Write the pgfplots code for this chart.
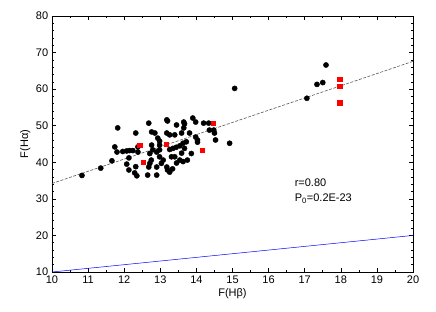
\documentclass[border=0pt]{standalone}
\usepackage{fontspec}
\setmainfont{Liberation Sans}
\usepackage{pgfplots}
\pgfplotsset{compat=1.18}
\usetikzlibrary{calc}
\begin{document}
\fontsize{11}{13}\selectfont
\begin{tikzpicture}
\begin{axis}[
 scale only axis, width=361pt, height=256pt,
 xmin=10, xmax=20, ymin=10, ymax=80,
 xtick={10,11,...,20}, ytick={10,20,...,80},
 minor x tick num=1, minor y tick num=4,
 tick align=inside, major tick length=4pt, minor tick length=2pt,
 tick style={black, line width=0.6pt},
 axis line style={line width=0.8pt},
 xlabel={F(Hβ)}, ylabel={F(Hα)},
 /pgf/number format/assume math mode=true,
 ticklabel style={font=\fontsize{11}{13}\selectfont},
 label style={font=\fontsize{11}{13}\selectfont},
 xlabel style={yshift=3pt},
 ylabel style={yshift=-2pt},
 clip=false,
]
\addplot[blue, line width=0.5pt] coordinates {(10,10) (20,20)};
\addplot[gray!70!black, line width=0.6pt, dash pattern=on 3pt off 1.5pt] coordinates {(10,34.2) (20,67.6)};
\addplot[only marks, mark=*, mark size=2.6pt, mark options={black, fill=black}] table {
10.83 36.4
11.35 38.4
11.66 40.4
11.82 49.4
11.74 44.2
11.80 42.8
11.96 42.95
12.07 43.1
12.15 43.2
12.24 43.2
12.32 48.0
12.38 44.2
12.38 42.8
12.13 41.2
12.07 39.5
12.13 37.9
12.29 37.1
12.35 36.3
12.32 38.8
12.68 50.7
12.76 48.3
12.85 48.0
13.18 51.6
13.20 51.3
13.45 50.2
13.65 51.0
13.67 50.5
13.90 52.1
13.98 51.0
14.20 50.7
14.34 50.7
14.36 48.8
14.48 48.8
14.50 48.0
14.53 46.1
13.18 48.0
13.26 47.5
13.40 47.5
13.59 48.0
13.65 49.4
13.81 48.0
12.93 46.6
12.98 45.8
13.98 46.9
14.03 46.1
14.03 45.5
12.98 44.7
12.76 44.7
12.79 43.4
12.90 42.8
12.98 43.4
12.71 42.4
13.26 43.5
13.35 43.8
13.44 44.1
13.54 44.5
13.63 45.2
13.72 45.6
13.67 43.8
13.31 41.5
13.40 41.5
13.54 40.6
13.63 40.2
13.75 40.6
12.98 41.5
13.08 40.6
13.03 39.7
12.75 40.6
12.71 39.7
13.59 42.5
13.86 42.4
13.18 38.7
13.20 37.9
13.26 37.3
13.45 39.8
13.34 38.2
12.68 38.7
12.65 36.5
12.90 36.5
12.90 38.7
14.92 45.2
15.06 60.2
17.59 66.6
17.34 61.3
17.50 61.8
17.06 57.5
};
\addplot[only marks, mark=square*, mark size=2.1pt, mark options={red, fill=red}] table {
12.43 44.7
12.52 40.0
13.17 45.0
14.46 50.7
14.15 43.2
17.97 62.7
17.97 60.9
17.97 56.3
};
\node[anchor=west, inner sep=0pt] at (axis cs:16.72,34.3) {r=0.80};
\node[anchor=west, inner sep=0pt] at (axis cs:16.72,30.0) {P\textsubscript{0}=0.2E-23};
\end{axis}
\pgfresetboundingbox
\useasboundingbox ($(current axis.south west)+(-52pt,-40pt)$) rectangle ($(current axis.north east)+(23pt,16pt)$);
\end{tikzpicture}
\end{document}
